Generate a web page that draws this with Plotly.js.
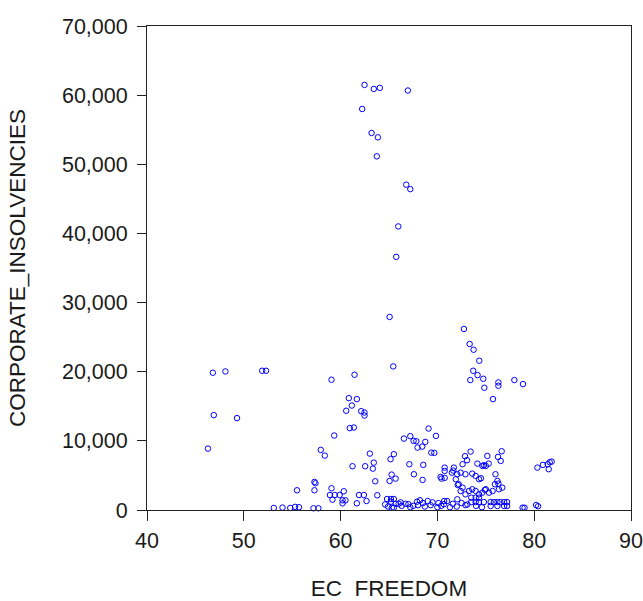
<!DOCTYPE html>
<html>
<head>
<meta charset="utf-8">
<script src="https://cdn.plot.ly/plotly-3.0.1.min.js"></script>
<style>html,body{margin:0;padding:0;background:#fff;}#chart{width:643px;height:601px;}</style>
</head>
<body>
<div id="chart"></div>
<script>
// EC FREEDOM (x) vs CORPORATE_INSOLVENCIES (y)
var ecFreedom = [
46.3,46.8,46.9,48.1,49.3,51.9,52.3,53.1,54.0,54.8,55.3,55.7,55.5,57.2,57.7,57.3,57.3,57.4,57.95,58.37,
58.9,59.06,59.06,59.16,59.34,59.4,59.9,60.2,60.2,60.33,60.5,60.58,60.85,60.95,61.16,61.23,61.37,61.44,61.68,61.68,
61.9,62.13,62.23,62.4,62.47,62.47,62.47,62.54,62.68,63.02,63.2,63.33,63.43,63.43,63.58,63.74,63.79,63.85,64.05,
65.06,65.44,65.75,65.96,66.78,66.95,67.2,
65.16,65.5,65.27,65.68,65.06,66.54,67.2,67.54,67.82,68.75,67.95,68.43,69.09,69.85,69.37,69.68,67.1,68.54,67.57,68.47,
64.8,65.2,65.5,64.6,64.9,65.2,65.3,65.5,65.7,66.0,66.2,66.3,66.7,67.0,67.2,67.5,67.9,68.0,68.2,68.5,68.7,69.0,69.3,69.5,70.0,70.1,70.4,70.7,71.0,70.67,
70.75,70.75,70.43,70.75,70.33,71.5,71.64,71.7,71.9,72.05,72.1,72.4,72.6,72.85,72.9,73.06,73.43,73.6,73.95,74.13,
74.3,74.5,74.65,74.8,75.0,75.16,75.3,76.0,76.2,76.26,76.3,76.36,76.54,76.64,76.7,75.95,
72.2,72.6,72.4,72.9,73.26,73.6,73.95,74.3,74.65,75.0,75.33,75.7,74.9,
73.5,73.95,74.3,72.06,71.6,72.0,71.3,72.5,72.9,73.1,73.5,73.95,74.0,74.3,74.6,74.8,75.5,75.5,75.84,76.2,76.2,76.5,76.9,76.9,77.2,77.2,
72.74,73.33,73.74,74.33,73.7,74.15,74.74,73.4,76.3,76.3,74.85,77.95,78.84,75.74,
78.8,79.0,80.2,80.4,80.33,80.9,81.4,81.6,81.8,81.5
];
var corporateInsolvencies = [
8880,19850,13720,20040,13290,20140,20140,300,350,300,450,400,2850,250,250,2850,4060,3870,8690,7870,
2170,18840,3140,1490,10770,2170,2170,1400,970,2710,1400,14350,16180,11840,15110,6330,11930,19560,16040,970,
2170,14300,58000,2170,61480,14100,13660,6330,1300,8160,54530,5980,6850,60900,4160,51150,2130,53900,61050,
27920,20770,36610,41010,47050,60670,46410,
7350,8070,5120,4540,4200,10330,10680,10000,9950,9850,9030,9170,11780,10720,8300,8260,6620,6520,5170,4350,
1590,1590,1590,800,500,1200,330,330,900,900,1100,600,900,850,400,600,1200,700,1400,1000,500,1300,700,1100,400,1000,600,1300,1300,830,
6130,5650,4540,4640,4780,5400,5700,6130,4450,5170,3620,5400,6620,7780,5170,7200,8450,5260,4930,6710,
4450,4590,6380,6480,6380,7820,6710,5170,4200,7680,3810,3000,7100,8500,3230,3720,
3720,3230,2750,2270,2750,3000,2750,2270,2510,3000,2510,2750,2900,
1780,1780,1780,1550,900,500,400,1000,700,800,1150,1150,600,1150,400,1150,1150,580,1150,1150,580,1150,1150,580,1150,580,
26180,24010,23180,21590,20140,19510,18980,18790,18450,17970,17680,18790,18210,16040,
330,330,720,540,6130,6520,6620,6910,7000,5900
];
var xTicks = [40, 50, 60, 70, 80, 90];
var yTicks = [0, 10000, 20000, 30000, 40000, 50000, 60000, 70000];

var trace = {
  x: ecFreedom,
  y: corporateInsolvencies,
  type: 'scatter',
  mode: 'markers',
  cliponaxis: false,
  marker: {symbol: 'circle-open', color: '#0000ff', size: 5.5, line: {width: 1, color: '#0000ff'}},
  hoverinfo: 'x+y'
};

var tickFont = {family: 'Liberation Sans, Arial, sans-serif', size: 21.5, color: '#1a1a1a'};
var titleFont = {family: 'Liberation Sans, Arial, sans-serif', size: 22.5, color: '#1a1a1a'};
var layout = {
  width: 643, height: 601,
  margin: {l: 147, r: 12, t: 26, b: 91, pad: 0},
  paper_bgcolor: '#ffffff', plot_bgcolor: '#ffffff',
  showlegend: false,
  font: tickFont,
  xaxis: {
    range: [40, 90], tickvals: xTicks, ticktext: xTicks.map(String),
    showgrid: false, zeroline: false, showline: true, mirror: true,
    linecolor: '#222', linewidth: 1, ticks: 'outside', ticklen: 10, tickwidth: 1, tickcolor: '#222',
    tickfont: tickFont, ticklabelstandoff: 1,
    title: {text: 'EC\u00a0 FREEDOM', font: titleFont, standoff: 36}
  },
  yaxis: {
    range: [0, 70000], tickvals: yTicks, ticktext: yTicks.map(function(v){return v.toLocaleString('en-US');}),
    showgrid: false, zeroline: false, showline: true, mirror: true,
    linecolor: '#222', linewidth: 1, ticks: 'outside', ticklen: 9, tickwidth: 1, tickcolor: '#222',
    tickfont: tickFont, ticklabelstandoff: 5,
    title: {text: 'CORPORATE_INSOLVENCIES', font: titleFont, standoff: 30}
  }
};
Plotly.newPlot('chart', [trace], layout, {displayModeBar: false, staticPlot: true});
</script>
</body>
</html>
